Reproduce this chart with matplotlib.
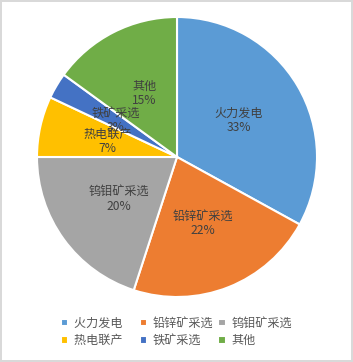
import numpy as np
import matplotlib
matplotlib.use("Agg")
import matplotlib.pyplot as plt

plt.rcParams['font.family'] = ['Noto Sans CJK SC', 'DejaVu Sans']

names = ["火力发电", "铅锌矿采选", "钨钼矿采选", "热电联产", "铁矿采选", "其他"]
shares = [33, 22, 20, 7, 3, 15]
colors = ["#5B9BD5", "#ED7D31", "#A5A5A5", "#FFC000", "#4472C4", "#70AD47"]

fig = plt.figure(figsize=(3.53, 3.62), dpi=100)
fig.patch.set_edgecolor("#D9D9D9")
fig.patch.set_linewidth(1.5)

# pie centre ~ (177,157) px, radius ~140 px
cx, cy, r = 177 / 353, 1 - 157 / 362, 140
ax = fig.add_axes([cx - r / 353, cy - r / 362, 2 * r / 353, 2 * r / 362])
wedges, _ = ax.pie(shares, colors=colors, startangle=90, counterclock=False,
                   wedgeprops=dict(edgecolor="white", linewidth=1.5))
ax.set_xlim(-1, 1)
ax.set_ylim(-1, 1)
ax.set_aspect("equal")

for w, n, s in zip(wedges, names, shares):
    ang = np.deg2rad((w.theta1 + w.theta2) / 2)
    ax.text(0.51 * np.cos(ang), 0.51 * np.sin(ang), f"{n}\n{s}%",
            ha="center", va="center", fontsize=8.7, color="#404040",
            linespacing=1.15)

# legend fills column-wise, so reorder to get row-wise entries;
# pad the 4-char labels in col 1 so all columns are equally wide
order = [0, 3, 1, 4, 2, 5]
leg_labels = [names[i] + ("\u3000" if i in (0, 3) else "") for i in order]
fig.legend([wedges[i] for i in order], leg_labels, loc="center",
           bbox_to_anchor=(0.5, 1 - 332 / 362),
           ncol=3, frameon=False, fontsize=8.7, labelcolor="#595959",
           handlelength=0.6, handleheight=0.6, handletextpad=0.5,
           columnspacing=0.4, labelspacing=0.35, borderpad=0)

fig.savefig("out.png", dpi=100)
